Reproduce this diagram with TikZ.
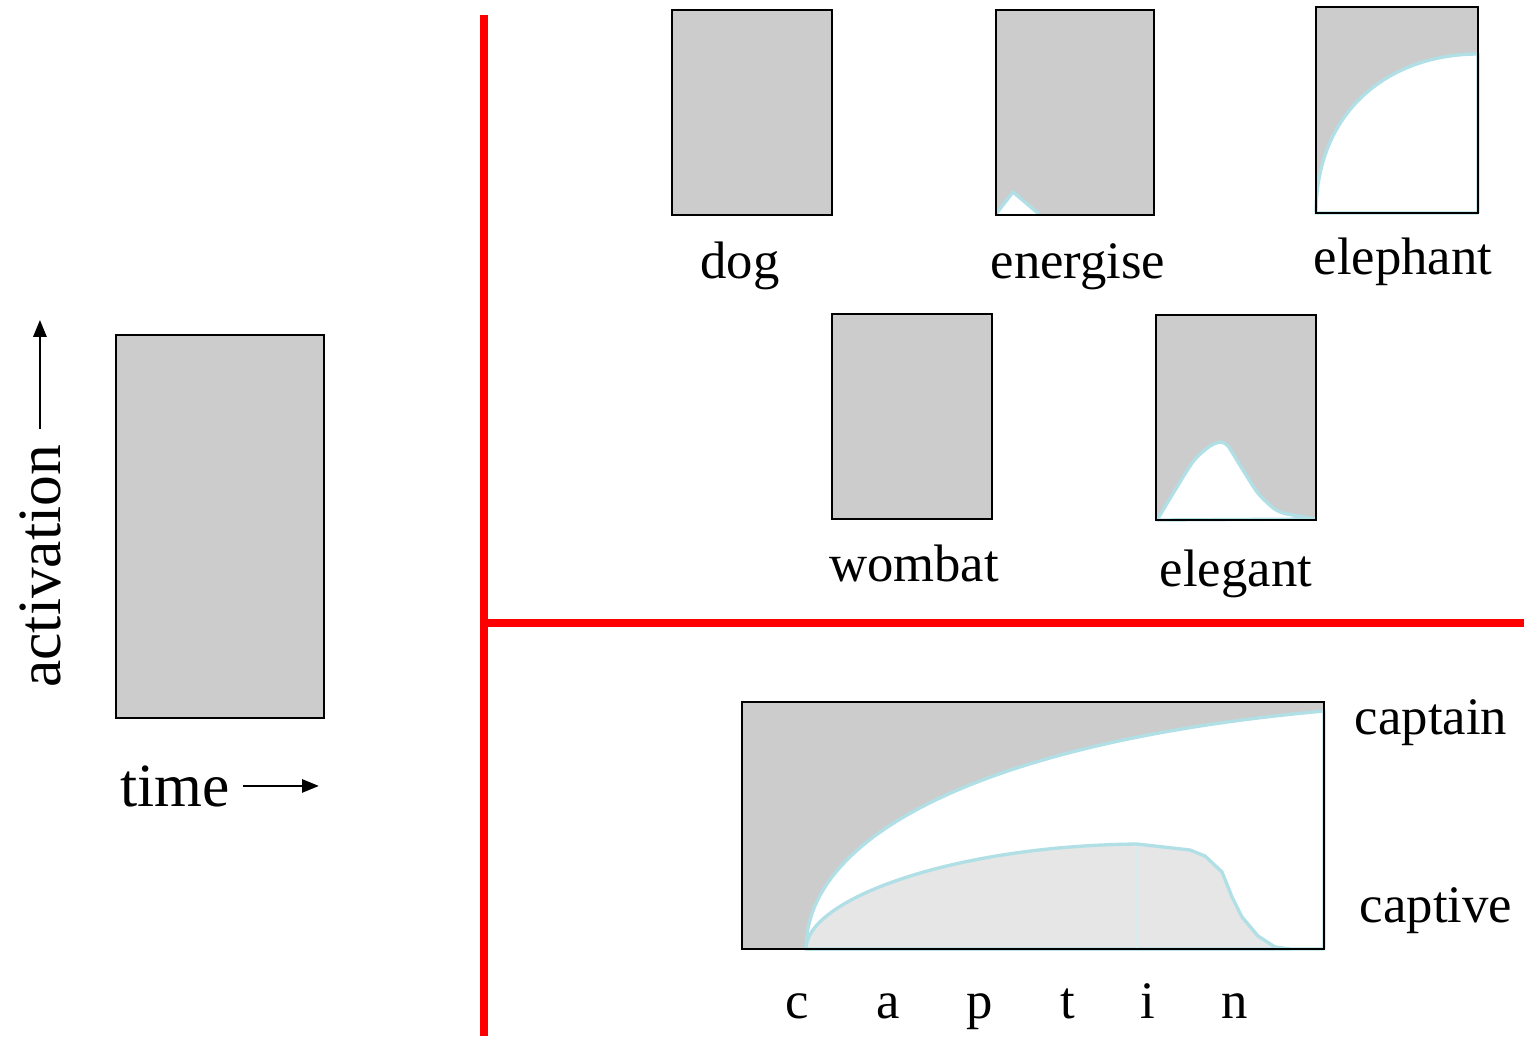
\documentclass[tikz,border=0pt]{standalone}
\usepackage{fontspec}
\setmainfont{Liberation Serif}
\usetikzlibrary{arrows.meta,calc}
\definecolor{boxgray}{RGB}{204,204,204}
\definecolor{captivegray}{RGB}{230,230,230}
\definecolor{tracecyan}{RGB}{176,224,230}
\definecolor{splitcyan}{RGB}{215,236,238}

\begin{document}
\begin{tikzpicture}[x=0.02cm, y=-0.02cm,
  every node/.style={font=\fontsize{30}{36}\selectfont, inner sep=0pt, anchor=base},
  panel/.style={draw=black, line width=1.6pt},
  trace/.style={draw=tracecyan, line width=1.9pt, line join=round},
  divider/.style={draw=red, line width=4.3pt},
  axisarrow/.style={line width=1.6pt, -{Triangle[length=0.34cm, width=0.26cm]}}]
\useasboundingbox (0,0) rectangle (1524,1036);

% left: axes key
\fill[boxgray] (116,335) rectangle (324,718);
\draw[panel] (116,335) rectangle (324,718);
\node[font=\fontsize{35}{42}\selectfont, rotate=90, anchor=base west] (activation) at (60,688) {activation};
\node[font=\fontsize{35}{42}\selectfont, anchor=base west] (time) at (120,806) {time};
\draw[axisarrow] ($(activation.east)+(0,-16)$) -- ++(0,-109);
\draw[axisarrow] ($(time.east)+(13,0)$) -- ++(76,0);

% dividers
\draw[divider] (484,15) -- (484,1036);
\draw[divider] (484,623) -- (1524,623);

% top row
\fill[boxgray] (672,10) rectangle (832,215);
\draw[panel] (672,10) rectangle (832,215);
\node (dog) at (740,278) {dog};

\fill[boxgray] (996,10) rectangle (1154,215);
\filldraw[trace, fill=white] (996,214) -- (1013,192) -- (1039,214);
\draw[panel] (996,10) rectangle (1154,215);
\node (energise) at (1078,278) {energise};

\fill[boxgray] (1316,7) rectangle (1478,213);
\filldraw[trace, fill=white] (1316,213) .. controls (1316,110) and (1390,54) .. (1478,54) -- (1478,213) -- cycle;
\draw[panel] (1316,7) rectangle (1478,213);
\node (elephant) at (1403,274) {elephant};

% middle row
\fill[boxgray] (832,314) rectangle (992,519);
\draw[panel] (832,314) rectangle (992,519);
\node (wombat) at (914,581) {wombat};

\fill[boxgray] (1156,315) rectangle (1316,520);
\filldraw[trace, fill=white] plot[smooth, tension=0.4] coordinates {(1157,520) (1192,463) (1210,446) (1221,442) (1228,446) (1238,462) (1257,492) (1272,507) (1283,513) (1315,519)} -- cycle;
\draw[panel] (1156,315) rectangle (1316,520);
\node (elegant) at (1236,586) {elegant};

% bottom: captain vs captive
\fill[boxgray] (742,702) rectangle (1324,949);
\filldraw[trace, fill=white] (806,949) .. controls (806,830) and (1000,740) .. (1324,711) -- (1324,949) -- cycle;
\filldraw[trace, fill=captivegray] (806,949) .. controls (806,900) and (950,846) .. (1137,844)
  -- (1190,850) -- (1205,856) -- (1222,872) -- (1232,897) -- (1242,917) -- (1258,936) -- (1275,947) -- (1290,949) -- cycle;
\draw[splitcyan, line width=0.8pt] (1137,846) -- (1137,948);
\draw[panel] (742,702) rectangle (1324,949);
\node (captain) at (1431,734) {captain};
\node (captive) at (1436,922) {captive};

% letters heard so far
\node (lc) at (797,1018) {c};
\node (la) at (888,1018) {a};
\node (lp) at (980,1018) {p};
\node (lt) at (1068,1018) {t};
\node (li) at (1148,1018) {i};
\node (ln) at (1235,1018) {n};
\end{tikzpicture}
\end{document}
